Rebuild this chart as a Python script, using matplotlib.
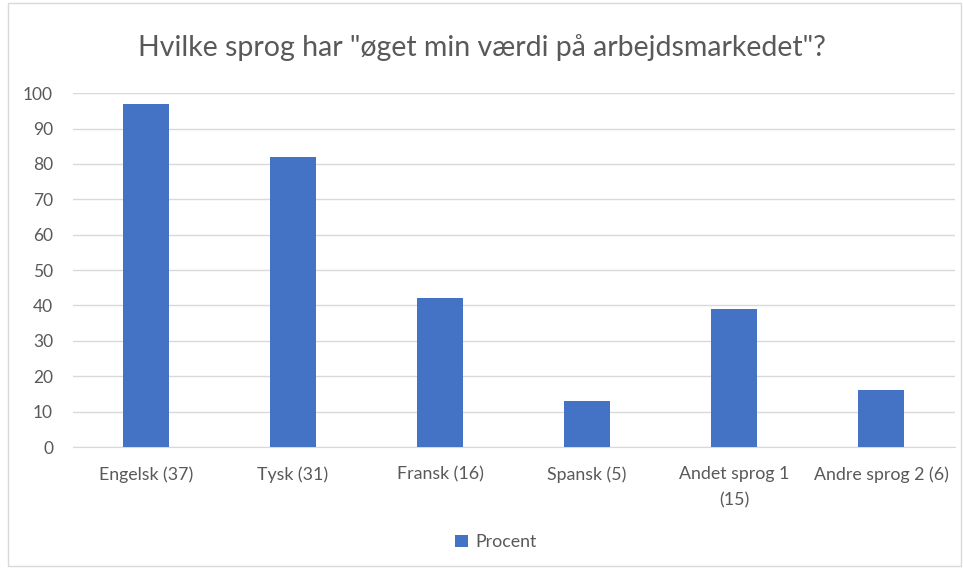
import matplotlib.pyplot as plt
from matplotlib.patches import Rectangle

categories = ["Engelsk (37)", "Tysk (31)", "Fransk (16)", "Spansk (5)",
              "Andet sprog 1\n(15)", "Andre sprog 2 (6)"]
procent = [97, 82, 42, 13, 39, 16]
yticks = [0, 10, 20, 30, 40, 50, 60, 70, 80, 90, 100]

plt.rcParams['font.family'] = ['Lato', 'DejaVu Sans']
grey = '#595959'

fig = plt.figure(figsize=(9.63, 5.68), dpi=100)
fig.patches.append(Rectangle((0.008, 0.004), 0.99, 0.99, transform=fig.transFigure,
                             fill=False, edgecolor='#d9d9d9', linewidth=1))
ax = fig.add_axes([0.0753, 0.213, 0.916, 0.623])

x = range(len(categories))
ax.bar(x, procent, width=0.31, color='#4472c4', label='Procent', zorder=3)

ax.set_xlim(-0.5, len(categories) - 0.5)
ax.set_ylim(0, 100)
ax.set_yticks(yticks)
ax.set_xticks(list(x))
ax.set_xticklabels(categories, fontsize=12.8, color=grey, linespacing=1.75)
ax.tick_params(axis='y', labelsize=12.5, labelcolor=grey, length=0, pad=14)
ax.tick_params(axis='x', length=0, pad=14)
ax.grid(axis='y', color='#d9d9d9', linewidth=1, zorder=0)
for s in ['top', 'right', 'left']:
    ax.spines[s].set_visible(False)
ax.spines['bottom'].set_color('#d9d9d9')

fig.text(0.5, 0.917, 'Hvilke sprog har "øget min værdi på arbejdsmarkedet"?',
         ha='center', va='center', fontsize=20.5, color=grey)

fig.legend(loc='center', bbox_to_anchor=(0.515, 0.045), frameon=False,
           fontsize=12.8, labelcolor=grey, handlelength=0.7, handleheight=0.7,
           handletextpad=0.4)

fig.savefig('out.png', dpi=100)
